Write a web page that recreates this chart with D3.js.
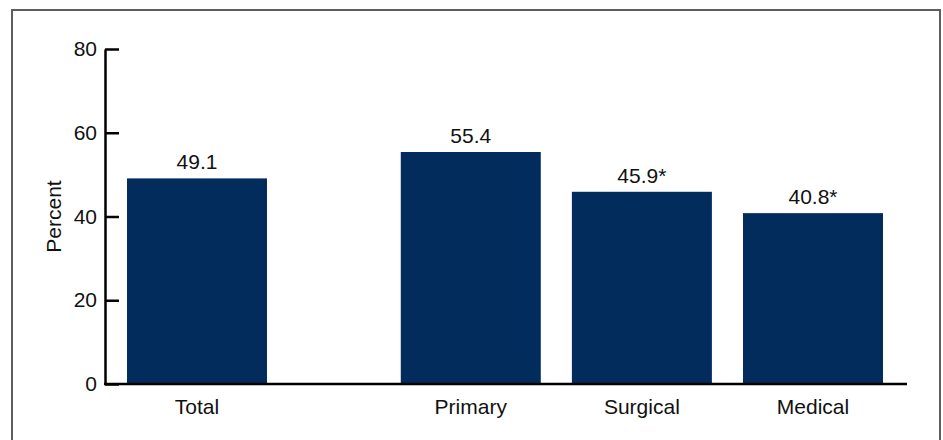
<!DOCTYPE html>
<html>
<head>
<meta charset="utf-8">
<script src="https://cdn.jsdelivr.net/npm/d3@7/dist/d3.min.js"></script>
<style>
  html, body { margin: 0; padding: 0; background: #fff; }
  svg { display: block; font-family: "Liberation Sans", Arial, sans-serif; }
</style>
</head>
<body>
<svg id="chart" width="943" height="440"></svg>
<script>
const categories = ["Total", "Primary", "Surgical", "Medical"];
const values = [49.1, 55.4, 45.9, 40.8];
const valueLabels = ["49.1", "55.4", "45.9*", "40.8*"];
const yTicks = [0, 20, 40, 60, 80];
const yTitle = "Percent";

const svg = d3.select("#chart");
const FS = 21;

// frame
svg.append("rect")
  .attr("x", 12).attr("y", 10)
  .attr("width", 928).attr("height", 460)
  .attr("fill", "none").attr("stroke", "#5e5e5e").attr("stroke-width", 2);

const axisX = 105, baseY = 384, topY = 49, axisEnd = 907;
const y = d3.scaleLinear().domain([0, 80]).range([baseY, topY]);

// slot positions: Total set apart from the specialty groups
const slot = categories.map((c, i) => i === 0 ? 0 : i + 0.6);
const x = d3.scaleLinear().domain([0, 3.6]).range([197, 813]);
const barW = 140;

const g = svg.append("g");

g.selectAll("rect.bar").data(categories).join("rect")
  .attr("class", "bar")
  .attr("x", (d, i) => x(slot[i]) - barW / 2)
  .attr("width", barW)
  .attr("y", (d, i) => y(values[i]))
  .attr("height", (d, i) => baseY - y(values[i]))
  .attr("fill", "#022c5c");

g.selectAll("text.val").data(categories).join("text")
  .attr("class", "val")
  .attr("x", (d, i) => x(slot[i]))
  .attr("y", (d, i) => y(values[i]) - 9)
  .attr("text-anchor", "middle")
  .attr("font-size", FS)
  .attr("fill", "#111")
  .text((d, i) => valueLabels[i]);

g.selectAll("text.cat").data(categories).join("text")
  .attr("class", "cat")
  .attr("x", (d, i) => x(slot[i]))
  .attr("y", 414)
  .attr("text-anchor", "middle")
  .attr("font-size", FS)
  .attr("fill", "#111")
  .text(d => d);

// y axis
const yAxis = d3.axisLeft(y).tickValues(yTicks).tickSizeInner(-14).tickSizeOuter(0).tickPadding(8);
const ya = svg.append("g").attr("transform", `translate(${axisX},0)`).call(yAxis);
ya.select(".domain").attr("stroke", "#000").attr("stroke-width", 2.5);
ya.selectAll(".tick line").attr("stroke", "#000").attr("stroke-width", 2.5);
ya.selectAll(".tick text").attr("font-size", FS).attr("fill", "#111")
  .attr("font-family", "Liberation Sans, Arial, sans-serif");

// x axis baseline
svg.append("line")
  .attr("x1", axisX - 1).attr("x2", axisEnd)
  .attr("y1", baseY).attr("y2", baseY)
  .attr("stroke", "#000").attr("stroke-width", 2.5);

svg.append("text")
  .attr("transform", `translate(61,${(topY + baseY) / 2}) rotate(-90)`)
  .attr("text-anchor", "middle")
  .attr("font-size", FS)
  .attr("fill", "#111")
  .text(yTitle);
</script>
</body>
</html>
